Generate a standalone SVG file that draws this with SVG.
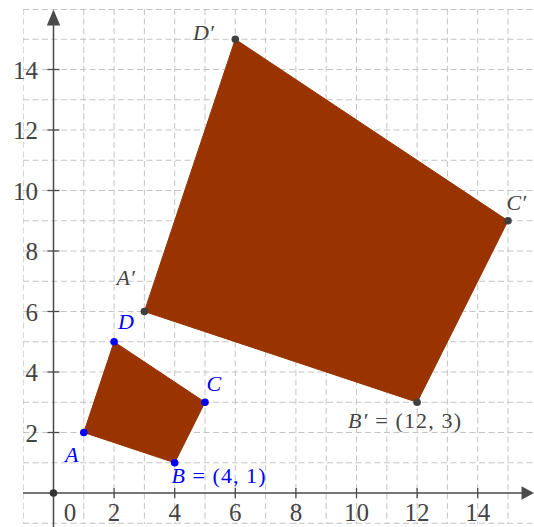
<svg xmlns="http://www.w3.org/2000/svg" width="534" height="527" viewBox="0 0 534 527">
<style>
.grid line{stroke:#c4c4c4;stroke-width:1;stroke-dasharray:6 3.5}
.axis{stroke:#4a4a4a;stroke-width:1.5;fill:none}
.tick{stroke:#4a4a4a;stroke-width:1.3}
.num{font-family:"Liberation Serif","DejaVu Serif",serif;font-size:25px;fill:#444}
.lbl{font-family:"Liberation Serif","DejaVu Serif",serif;font-size:22px}
.blue{fill:#0000ff}
.gray{fill:#444}
.poly{fill:#993300;stroke:#993300;stroke-width:1}
</style>
<defs>
<clipPath id="plot"><rect x="23" y="9" width="511" height="515"/></clipPath>
</defs>
<rect width="534" height="527" fill="#fff"/>
<g class="grid" clip-path="url(#plot)">
<line x1="23.2" y1="9" x2="23.2" y2="524"/>
<line x1="83.8" y1="9" x2="83.8" y2="524"/>
<line x1="114.1" y1="9" x2="114.1" y2="524"/>
<line x1="144.4" y1="9" x2="144.4" y2="524"/>
<line x1="174.7" y1="9" x2="174.7" y2="524"/>
<line x1="205" y1="9" x2="205" y2="524"/>
<line x1="235.3" y1="9" x2="235.3" y2="524"/>
<line x1="265.6" y1="9" x2="265.6" y2="524"/>
<line x1="295.9" y1="9" x2="295.9" y2="524"/>
<line x1="326.2" y1="9" x2="326.2" y2="524"/>
<line x1="356.5" y1="9" x2="356.5" y2="524"/>
<line x1="386.8" y1="9" x2="386.8" y2="524"/>
<line x1="417.1" y1="9" x2="417.1" y2="524"/>
<line x1="447.4" y1="9" x2="447.4" y2="524"/>
<line x1="477.7" y1="9" x2="477.7" y2="524"/>
<line x1="508" y1="9" x2="508" y2="524"/>
<line x1="23" y1="9.5" x2="534" y2="9.5"/>
<line x1="23" y1="39.25" x2="534" y2="39.25"/>
<line x1="23" y1="69.5" x2="534" y2="69.5"/>
<line x1="23" y1="99.75" x2="534" y2="99.75"/>
<line x1="23" y1="130" x2="534" y2="130"/>
<line x1="23" y1="160.25" x2="534" y2="160.25"/>
<line x1="23" y1="190.5" x2="534" y2="190.5"/>
<line x1="23" y1="220.75" x2="534" y2="220.75"/>
<line x1="23" y1="251" x2="534" y2="251"/>
<line x1="23" y1="281.25" x2="534" y2="281.25"/>
<line x1="23" y1="311.5" x2="534" y2="311.5"/>
<line x1="23" y1="341.75" x2="534" y2="341.75"/>
<line x1="23" y1="372" x2="534" y2="372"/>
<line x1="23" y1="402.25" x2="534" y2="402.25"/>
<line x1="23" y1="432.5" x2="534" y2="432.5"/>
<line x1="23" y1="462.75" x2="534" y2="462.75"/>
<line x1="23" y1="523.25" x2="534" y2="523.25"/>
</g>
<g id="axes">
<line class="axis" x1="23" y1="493" x2="522" y2="493"/>
<polygon points="534,493 521.5,486.3 521.5,499.7" fill="#4a4a4a"/>
<line class="axis" x1="53.5" y1="527" x2="53.5" y2="24"/>
<polygon points="53.5,9.5 46.8,25.5 60.2,25.5" fill="#4a4a4a"/>
<g class="tick">
<line x1="114.1" y1="488" x2="114.1" y2="498"/>
<line x1="174.7" y1="488" x2="174.7" y2="498"/>
<line x1="235.3" y1="488" x2="235.3" y2="498"/>
<line x1="295.9" y1="488" x2="295.9" y2="498"/>
<line x1="356.5" y1="488" x2="356.5" y2="498"/>
<line x1="417.1" y1="488" x2="417.1" y2="498"/>
<line x1="477.7" y1="488" x2="477.7" y2="498"/>
<line x1="47.5" y1="432.5" x2="59.5" y2="432.5"/>
<line x1="47.5" y1="372" x2="59.5" y2="372"/>
<line x1="47.5" y1="311.5" x2="59.5" y2="311.5"/>
<line x1="47.5" y1="251" x2="59.5" y2="251"/>
<line x1="47.5" y1="190.5" x2="59.5" y2="190.5"/>
<line x1="47.5" y1="130" x2="59.5" y2="130"/>
<line x1="47.5" y1="69.5" x2="59.5" y2="69.5"/>
</g>
<circle cx="53.5" cy="493" r="3.8" fill="#333"/>
<g class="num" text-anchor="middle">
<text x="70" y="521">0</text>
<text x="114.1" y="521">2</text>
<text x="174.7" y="521">4</text>
<text x="235.3" y="521">6</text>
<text x="295.9" y="521">8</text>
<text x="356.5" y="521">10</text>
<text x="417.1" y="521">12</text>
<text x="477.7" y="521">14</text>
</g>
<g class="num" text-anchor="end">
<text x="38" y="441.5">2</text>
<text x="38" y="381">4</text>
<text x="38" y="320.5">6</text>
<text x="38" y="260">8</text>
<text x="38" y="199.5">10</text>
<text x="38" y="139">12</text>
<text x="38" y="78.5">14</text>
</g>
</g>
<g id="polygon-ABCD">
<polygon class="poly" points="83.8,432.5 174.7,462.75 205,402.25 114.1,341.75"/>
</g>
<g id="polygon-A1B1C1D1">
<polygon class="poly" points="144.4,311.5 417.1,402.25 508,220.75 235.3,39.25"/>
</g>
<g id="point-A"><circle cx="83.8" cy="432.5" r="3.8" fill="#0000ff"/><text class="lbl blue" x="65" y="461.5" font-style="italic">A</text></g>
<g id="point-B"><circle cx="174.7" cy="462.75" r="3.8" fill="#0000ff"/><text class="lbl blue" x="171.5" y="483" textLength="94" lengthAdjust="spacing"><tspan font-style="italic">B</tspan> = (4, 1)</text></g>
<g id="point-C"><circle cx="205" cy="402.25" r="3.8" fill="#0000ff"/><text class="lbl blue" x="206.5" y="390.5" font-style="italic">C</text></g>
<g id="point-D"><circle cx="114.1" cy="341.75" r="3.8" fill="#0000ff"/><text class="lbl blue" x="118" y="329" font-style="italic">D</text></g>
<g id="point-A1"><circle cx="144.4" cy="311.5" r="3.8" fill="#404040"/><text class="lbl gray" x="116.5" y="285" font-style="italic">A′</text></g>
<g id="point-B1"><circle cx="417.1" cy="402.25" r="3.8" fill="#404040"/><text class="lbl gray" x="348" y="428" textLength="113" lengthAdjust="spacing"><tspan font-style="italic">B′</tspan> = (12, 3)</text></g>
<g id="point-C1"><circle cx="508" cy="220.75" r="3.8" fill="#404040"/><text class="lbl gray" x="506.5" y="210" font-style="italic">C′</text></g>
<g id="point-D1"><circle cx="235.3" cy="39.25" r="3.8" fill="#404040"/><text class="lbl gray" x="193" y="40" font-style="italic">D′</text></g>
</svg>
